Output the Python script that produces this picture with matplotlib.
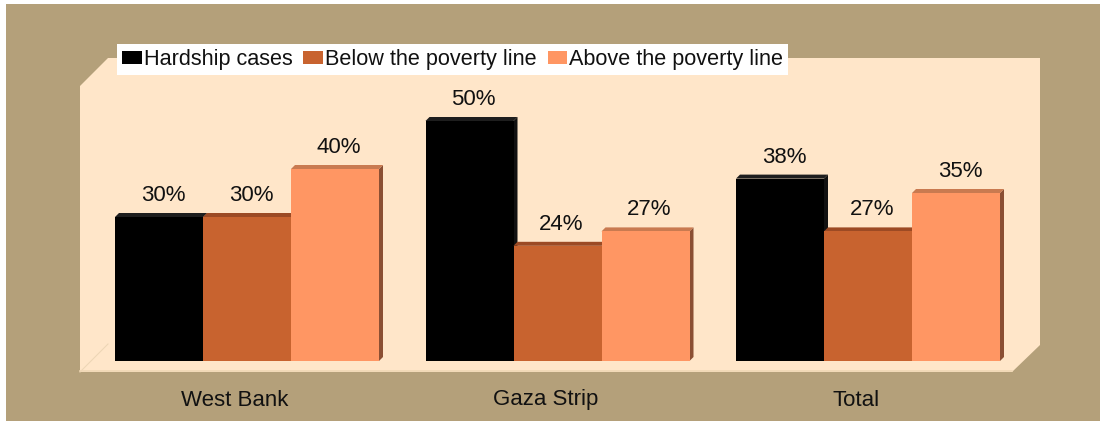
import matplotlib
matplotlib.use('Agg')
import matplotlib.pyplot as plt
import matplotlib.patches as mpatches
from matplotlib.patches import Polygon, Rectangle
from matplotlib.transforms import blended_transform_factory

plt.rcParams['font.family'] = ['Liberation Sans', 'DejaVu Sans']

regions = ['West Bank', 'Gaza Strip', 'Total']
series = ['Hardship cases', 'Below the poverty line', 'Above the poverty line']
hardship = [30, 50, 38]
below_line = [30, 24, 27]
above_line = [40, 27, 35]

C_BG = '#B4A07A'
C_WALL = '#FFE6C9'
# front, top, side colours for each series
FACES = [
    ('#000000', '#1E1E1E', '#111111'),
    ('#C8632F', '#9C4A24', '#8F4420'),
    ('#FF9663', '#C97A50', '#8B4F33'),
]
FS = 16

W, H = 1100, 421
fig = plt.figure(figsize=(W / 100, H / 100), dpi=100)
fig.patch.set_facecolor('white')
fig.add_artist(Rectangle((6 / W, 0), 1 - 6 / W, 1 - 4 / H, transform=fig.transFigure,
                         facecolor=C_BG, edgecolor='none', zorder=0))

# plot box: pixels 80..1040 across, 58..372 down from the top
ax = fig.add_axes([80 / W, (H - 372) / H, 960 / W, 314 / H])
ax.set_facecolor('none')
for s in ax.spines.values():
    s.set_visible(False)
ax.set_xticks([])
ax.set_yticks([])

px_x = 310.5          # pixels per category step
px_y = 4.8            # pixels per percent
ax.set_xlim((80 - 247) / px_x, (1040 - 247) / px_x)
ax.set_ylim(-11 / px_y, (361 - 58) / px_y)

# back wall and floor with chamfered corners
wall = [(0, 286 / 314), (28 / 960, 1), (1, 1), (1, 27 / 314), (932 / 960, 0), (0, 0)]
ax.add_patch(Polygon(wall, closed=True, transform=ax.transAxes, facecolor=C_WALL,
                     edgecolor='none', zorder=0, clip_on=False))
ax.plot([0, 28 / 960], [0, 28 / 314], transform=ax.transAxes, color='#EED6B6',
        lw=0.8, zorder=1, clip_on=False)
ax.plot([0, 932 / 960], [0.004, 0.004], transform=ax.transAxes, color='#EFD7B4',
        lw=1.2, zorder=1, clip_on=False)

bw = 88 / px_x
dx = 4 / px_x
dy = 4 / px_y
z = 2
for i in range(len(regions)):
    for j, vals in enumerate([hardship, below_line, above_line]):
        v = vals[i]
        x0 = i - 1.5 * bw + j * bw
        front, top, side = FACES[j]
        ax.add_patch(Polygon([(x0 + bw, 0), (x0 + bw + dx, dy), (x0 + bw + dx, v + dy),
                              (x0 + bw, v)], closed=True, facecolor=side,
                             edgecolor='none', zorder=z))
        ax.add_patch(Polygon([(x0, v), (x0 + dx, v + dy), (x0 + bw + dx, v + dy),
                              (x0 + bw, v)], closed=True, facecolor=top,
                             edgecolor='none', zorder=z + 1))
        ax.bar(x0, v, width=bw, align='edge', color=front, edgecolor='none', zorder=z + 2)
        ax.annotate(f'{v}%', xy=(x0 + bw / 2 + dx, v), xytext=(0, 16),
                    textcoords='offset pixels', ha='center', va='baseline',
                    fontsize=FS, color='#111111', zorder=20)
        z += 3

lab_tr = blended_transform_factory(ax.transData, ax.transAxes)
for i, name in enumerate(regions):
    ax.text(i - 12 / px_x, -28 / 314, name, transform=lab_tr, ha='center', va='center',
            fontsize=FS, color='#111111', clip_on=False)

handles = [mpatches.Patch(facecolor=FACES[k][0], edgecolor='none', label=series[k])
           for k in range(3)]
leg = fig.legend(handles=handles, loc='upper left', bbox_to_anchor=(117 / W, 1 - 44 / H),
                 bbox_transform=fig.transFigure, ncol=3, fontsize=15.6, frameon=True,
                 fancybox=False, framealpha=1, edgecolor='none', facecolor='white',
                 borderpad=0.24, borderaxespad=0, handlelength=0.9, handleheight=0.6,
                 handletextpad=0.1, columnspacing=0.5)
leg.set_zorder(30)
for t in leg.get_texts():
    t.set_color('#111111')

fig.savefig('out.png', dpi=100, facecolor=fig.get_facecolor())
